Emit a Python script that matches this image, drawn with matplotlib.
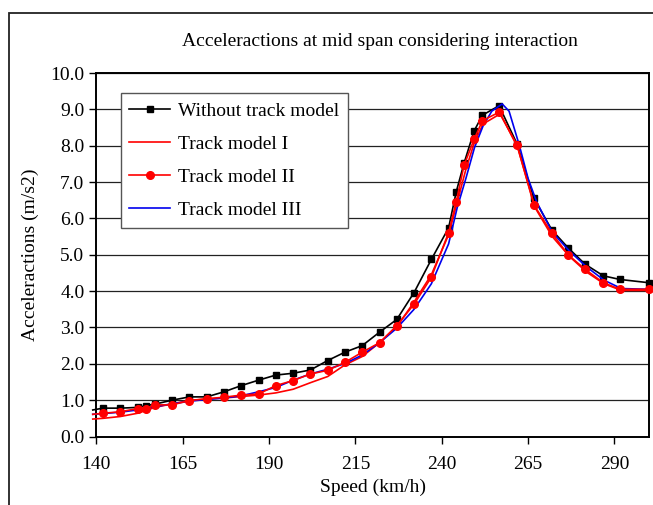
import matplotlib
matplotlib.use("Agg")
import matplotlib.pyplot as plt
from matplotlib.patches import Rectangle

# ---- data ----
speed = [139, 142, 147, 152, 154.5, 157, 162, 167, 172, 177, 182, 187, 192, 197,
         202, 207, 212, 217, 222, 227, 232, 237, 242, 244.2, 246.5, 249.4, 251.8,
         256.6, 261.8, 266.7, 271.9, 276.7, 281.5, 286.8, 291.6, 300]

without_track = [0.73, 0.78, 0.78, 0.80, 0.85, 0.89, 1.00, 1.09, 1.09, 1.23, 1.40, 1.55,
                 1.69, 1.74, 1.83, 2.09, 2.32, 2.50, 2.87, 3.22, 3.96, 4.87, 5.74, 6.73,
                 7.53, 8.41, 8.84, 9.10, 8.05, 6.55, 5.68, 5.18, 4.74, 4.42, 4.32, 4.23]

track_model_2 = [0.61, 0.64, 0.68, 0.77, 0.77, 0.87, 0.87, 0.99, 1.04, 1.08, 1.14, 1.17,
                 1.40, 1.54, 1.72, 1.82, 2.04, 2.32, 2.58, 3.05, 3.64, 4.38, 5.61, 6.46,
                 7.47, 8.18, 8.69, 8.92, 8.02, 6.37, 5.59, 4.99, 4.60, 4.23, 4.05, 4.05]

speed_1 = [139, 142, 147, 152, 157, 162, 167, 172, 177, 182, 187, 192, 197, 202, 207,
           212, 217, 222, 227, 232, 237, 242, 244.5, 247, 249.5, 252, 257, 262, 267,
           272, 277, 282, 287, 292, 300]
track_model_1 = [0.48, 0.50, 0.55, 0.64, 0.80, 0.90, 0.99, 1.03, 1.06, 1.10, 1.14, 1.20,
                 1.30, 1.48, 1.65, 1.97, 2.20, 2.58, 3.02, 3.70, 4.45, 5.55, 6.45, 7.35,
                 8.10, 8.60, 8.88, 7.95, 6.30, 5.50, 4.95, 4.52, 4.20, 4.02, 4.02]

speed_3 = [139, 142, 147, 152, 157, 162, 167, 172, 177, 182, 187, 192, 197, 202, 207,
           212, 217, 222, 227, 232, 237, 242, 244.5, 247, 249.5, 252, 254.5, 257.5,
           259.5, 262.5, 265, 267.5, 272, 277, 282, 287, 292, 300]
track_model_3 = [0.61, 0.63, 0.67, 0.73, 0.82, 0.90, 0.97, 1.02, 1.06, 1.12, 1.23, 1.35,
                 1.55, 1.72, 1.85, 2.01, 2.24, 2.58, 2.98, 3.50, 4.20, 5.30, 6.30, 7.10,
                 7.95, 8.55, 8.95, 9.15, 8.95, 8.00, 7.10, 6.45, 5.62, 5.10, 4.66, 4.30,
                 4.07, 4.05]

x_ticks = [140, 165, 190, 215, 240, 265, 290]
y_ticks = [0, 1, 2, 3, 4, 5, 6, 7, 8, 9, 10]

plt.rcParams['font.family'] = ['Liberation Serif', 'DejaVu Serif']

fig = plt.figure(figsize=(6.53, 5.05), dpi=100)
ax = fig.add_axes([96.2 / 653, 1 - 436.5 / 505, (649 - 96.2) / 653, (436.5 - 73) / 505])

# outer chart frame
fig.patches.append(Rectangle((9 / 653, -0.1), 1.2, 1 - 13 / 505 + 0.1,
                             transform=fig.transFigure, fill=False,
                             edgecolor='#222222', linewidth=1.3))

ax.plot(speed, without_track, color='black', lw=1.2, marker='s', ms=5,
        markevery=slice(1, None), label='Without track model', clip_on=False, zorder=3)
ax.plot(speed_1, track_model_1, color='#ff0000', lw=1.2, label='Track model I',
        clip_on=False, zorder=3)
ax.plot(speed_3, track_model_3, color='#0000ee', lw=1.2, label='Track model III',
        clip_on=False, zorder=4)
ax.plot(speed, track_model_2, color='#ff0000', lw=1.2, marker='o', ms=5.5,
        markevery=slice(1, None), label='Track model II', clip_on=False, zorder=5)

ax.set_xlim(140, 300)
ax.set_ylim(0, 10)
ax.set_xticks(x_ticks)
ax.set_yticks(y_ticks)
ax.set_yticklabels([f"{v:.1f}" for v in y_ticks])
ax.yaxis.grid(True, color='#222222', lw=0.9)
ax.set_axisbelow(True)
ax.tick_params(direction='out', length=5, width=1.0, labelsize=14, color='black')
ax.tick_params(axis='x', pad=9)
for s in ax.spines.values():
    s.set_linewidth(1.4)
    s.set_color('black')

ax.set_xlabel('Speed (km/h)', fontsize=14, labelpad=4)
ax.set_ylabel('Acceleractions (m/s2)', fontsize=14, labelpad=8)
fig.text(380 / 653, 1 - 42 / 505, 'Acceleractions at mid span considering interaction',
         ha='center', va='center', fontsize=14)

handles, labels = ax.get_legend_handles_labels()
order = [0, 1, 3, 2]
leg = ax.legend([handles[i] for i in order], [labels[i] for i in order],
                loc='upper left', bbox_to_anchor=((120.7 - 96.2) / 552.8, (436.5 - 93.3) / 363.5),
                borderaxespad=0, fancybox=False, frameon=True, edgecolor='#555555',
                framealpha=1, fontsize=14, handlelength=2.1, labelspacing=0.8,
                borderpad=0.45, handletextpad=0.4)
leg.get_frame().set_linewidth(1.0)

fig.savefig('out.png', dpi=100)
